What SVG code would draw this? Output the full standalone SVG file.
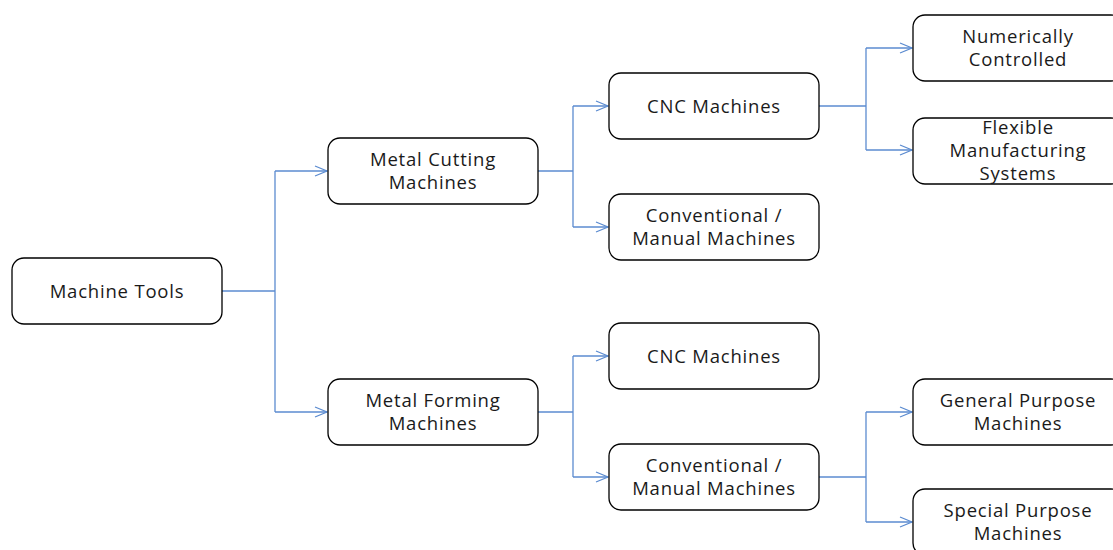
<svg xmlns="http://www.w3.org/2000/svg" width="1113" height="550" viewBox="0 0 1113 550">
  <style>
    .box { fill: #ffffff; stroke: #000000; stroke-width: 1.3; }
    .lbl { font-family: "Open Sans", "Liberation Sans", sans-serif; font-size: 18.5px; letter-spacing: 0.8px; fill: #1a1a1a; text-anchor: middle; }
    .wire { fill: none; stroke: #5b8bd0; stroke-width: 1.3; }
  </style>
  <defs>
    <marker id="chev" markerWidth="14" markerHeight="12" refX="13" refY="6" orient="auto" markerUnits="userSpaceOnUse">
      <path d="M1,1 L13,6 L1,11" fill="none" stroke="#5b8bd0" stroke-width="1.3"/>
    </marker>
  </defs>
  <rect width="1113" height="550" fill="#ffffff"/>

  <g id="connectors">
    <!-- Machine Tools fan-out -->
    <path class="wire" d="M222,291 H275"/>
    <path class="wire" d="M275,171 V412"/>
    <path class="wire" marker-end="url(#chev)" d="M275,171 H327"/>
    <path class="wire" marker-end="url(#chev)" d="M275,412 H327"/>
    <!-- Metal Cutting fan-out -->
    <path class="wire" d="M538,171 H573"/>
    <path class="wire" d="M573,106 V227"/>
    <path class="wire" marker-end="url(#chev)" d="M573,106 H608"/>
    <path class="wire" marker-end="url(#chev)" d="M573,227 H608"/>
    <!-- Metal Forming fan-out -->
    <path class="wire" d="M538,412 H573"/>
    <path class="wire" d="M573,356 V477"/>
    <path class="wire" marker-end="url(#chev)" d="M573,356 H608"/>
    <path class="wire" marker-end="url(#chev)" d="M573,477 H608"/>
    <!-- CNC fan-out -->
    <path class="wire" d="M819,106 H866"/>
    <path class="wire" d="M866,48 V150"/>
    <path class="wire" marker-end="url(#chev)" d="M866,48 H912"/>
    <path class="wire" marker-end="url(#chev)" d="M866,150 H912"/>
    <!-- Conventional (forming) fan-out -->
    <path class="wire" d="M819,477 H866"/>
    <path class="wire" d="M866,412 V522"/>
    <path class="wire" marker-end="url(#chev)" d="M866,412 H912"/>
    <path class="wire" marker-end="url(#chev)" d="M866,522 H912"/>
  </g>

  <g id="machine-tools">
    <rect class="box" x="12" y="258" width="210" height="66" rx="12"/>
    <text class="lbl" x="117" y="298">Machine Tools</text>
  </g>

  <g id="metal-cutting">
    <rect class="box" x="328" y="138" width="210" height="66" rx="12"/>
    <text class="lbl" x="433" y="166">Metal Cutting</text>
    <text class="lbl" x="433" y="189">Machines</text>
  </g>

  <g id="metal-forming">
    <rect class="box" x="328" y="379" width="210" height="66" rx="12"/>
    <text class="lbl" x="433" y="407">Metal Forming</text>
    <text class="lbl" x="433" y="430">Machines</text>
  </g>

  <g id="cnc-cutting">
    <rect class="box" x="609" y="73" width="210" height="66" rx="12"/>
    <text class="lbl" x="714" y="113">CNC Machines</text>
  </g>

  <g id="conventional-cutting">
    <rect class="box" x="609" y="194" width="210" height="66" rx="12"/>
    <text class="lbl" x="714" y="222">Conventional /</text>
    <text class="lbl" x="714" y="245">Manual Machines</text>
  </g>

  <g id="cnc-forming">
    <rect class="box" x="609" y="323" width="210" height="66" rx="12"/>
    <text class="lbl" x="714" y="363">CNC Machines</text>
  </g>

  <g id="conventional-forming">
    <rect class="box" x="609" y="444" width="210" height="66" rx="12"/>
    <text class="lbl" x="714" y="472">Conventional /</text>
    <text class="lbl" x="714" y="495">Manual Machines</text>
  </g>

  <g id="numerically-controlled">
    <rect class="box" x="913" y="15" width="210" height="66" rx="12"/>
    <text class="lbl" x="1018" y="43">Numerically</text>
    <text class="lbl" x="1018" y="66">Controlled</text>
  </g>

  <g id="flexible-manufacturing">
    <rect class="box" x="913" y="118" width="210" height="66" rx="12"/>
    <text class="lbl" x="1018" y="134">Flexible</text>
    <text class="lbl" x="1018" y="157">Manufacturing</text>
    <text class="lbl" x="1018" y="180">Systems</text>
  </g>

  <g id="general-purpose">
    <rect class="box" x="913" y="379" width="210" height="66" rx="12"/>
    <text class="lbl" x="1018" y="407">General Purpose</text>
    <text class="lbl" x="1018" y="430">Machines</text>
  </g>

  <g id="special-purpose">
    <rect class="box" x="913" y="489" width="210" height="66" rx="12"/>
    <text class="lbl" x="1018" y="517">Special Purpose</text>
    <text class="lbl" x="1018" y="540">Machines</text>
  </g>
</svg>
